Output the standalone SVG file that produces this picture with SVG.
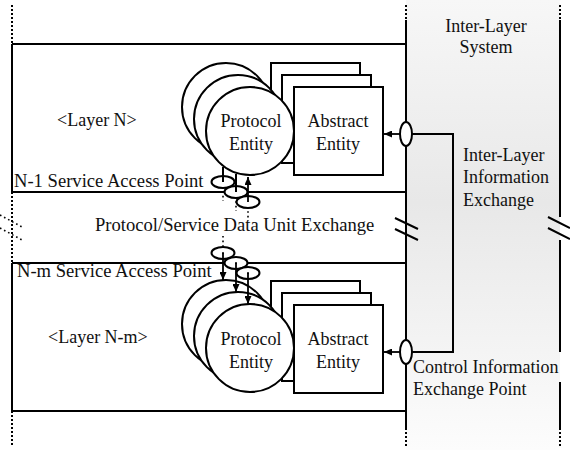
<svg xmlns="http://www.w3.org/2000/svg" width="570" height="450" viewBox="0 0 570 450">
<defs>
<linearGradient id="band" x1="0" y1="0" x2="0" y2="1">
<stop offset="0" stop-color="#f7f7f7"/>
<stop offset="0.45" stop-color="#e8e8e8"/>
<stop offset="1" stop-color="#fcfcfc"/>
</linearGradient>
<marker id="ah" markerUnits="userSpaceOnUse" markerWidth="9" markerHeight="7" refX="8" refY="3.5" orient="auto">
<path d="M0,0 L8,3.5 L0,7 z" fill="#000"/>
</marker>
</defs>
<style>
text{font-family:"Liberation Serif","Times New Roman",serif;font-size:18px;fill:#111}
.w{font-size:18.6px}
.c{text-anchor:middle}
.box{fill:none;stroke:#000;stroke-width:2}
.ent{fill:#fff;stroke:#000;stroke-width:2}
.ln{fill:none;stroke:#000;stroke-width:2}
.dot{fill:none;stroke:#000;stroke-width:2;stroke-dasharray:2 2}
.sdot{fill:none;stroke:#000;stroke-width:1.6;stroke-dasharray:1.6 3}
.sap{fill:#fff;stroke:#000;stroke-width:2}
.arr{fill:none;stroke:#000;stroke-width:1.8;marker-end:url(#ah)}
</style>
<rect width="570" height="450" fill="#fff"/>

<g id="inter-layer-system">
<rect x="406" y="0" width="154" height="450" fill="url(#band)"/>
<path class="ln" d="M406,20 V430 M560,20 V217 M560,240 V352 M560,382 V430"/>
<path class="dot" d="M406,5 V20 M406,432 V447 M560,5 V20 M560,432 V447"/>
<text class="c" x="486" y="32">Inter-Layer</text>
<text class="c" x="486" y="53">System</text>
</g>

<g id="layer-n">
<path class="box" d="M12,44 H406 M12,44 V192 H406"/>
<text x="57" y="126">&lt;Layer N&gt;</text>
<text class="w" x="14" y="187">N-1 Service Access Point</text>
</g>

<g id="layer-nm">
<path class="box" d="M12,263 H406 M12,263 V411 H406"/>
<text x="48" y="343">&lt;Layer N-m&gt;</text>
<text class="w" x="17" y="277">N-m Service Access Point</text>
</g>

<g id="left-boundary">
<path class="dot" d="M12,5 V44 M12,192 V263 M12,411 V447"/>
<path class="sdot" d="M0,215 L22,227 M0,228 L22,240"/>
</g>

<g id="abstract-entity-n">
<rect class="ent" x="271" y="63" width="89" height="88"/>
<rect class="ent" x="282" y="75" width="89" height="88"/>
<rect class="ent" x="294" y="87" width="89" height="88"/>
<text class="c" x="338" y="127">Abstract</text>
<text class="c" x="338" y="150">Entity</text>
</g>

<g id="abstract-entity-nm">
<rect class="ent" x="271" y="281" width="89" height="88"/>
<rect class="ent" x="282" y="293" width="89" height="88"/>
<rect class="ent" x="294" y="305" width="89" height="88"/>
<text class="c" x="338" y="345">Abstract</text>
<text class="c" x="338" y="368">Entity</text>
</g>

<g id="protocol-entity-n">
<circle class="ent" cx="226" cy="107" r="44"/>
<circle class="ent" cx="238" cy="119" r="44"/>
<circle class="ent" cx="250" cy="131" r="44"/>
<text class="c" x="251" y="127">Protocol</text>
<text class="c" x="251" y="150">Entity</text>
</g>

<g id="protocol-entity-nm">
<circle class="ent" cx="226" cy="324" r="44"/>
<circle class="ent" cx="238" cy="336" r="44"/>
<circle class="ent" cx="250" cy="348" r="44"/>
<text class="c" x="251" y="345">Protocol</text>
<text class="c" x="251" y="368">Entity</text>
</g>

<g id="sap-n">
<path class="sdot" d="M223,182 V201 M236,192 V211 M248,202 V221"/>
<ellipse class="sap" cx="223" cy="182" rx="11.5" ry="6"/>
<ellipse class="sap" cx="236" cy="192" rx="11.5" ry="6"/>
<ellipse class="sap" cx="248" cy="202" rx="11.5" ry="6"/>
</g>

<g id="sap-nm">
<path class="sdot" d="M223,236 V253"/>
<ellipse class="sap" cx="223" cy="253" rx="11.5" ry="6"/>
<ellipse class="sap" cx="236" cy="263" rx="11.5" ry="6"/>
<ellipse class="sap" cx="248" cy="273" rx="11.5" ry="6"/>
<g fill="#000"><circle cx="223" cy="253" r="1"/><circle cx="236" cy="263" r="1"/><circle cx="248" cy="273" r="1"/></g>
</g>

<g id="control-points">
<ellipse class="sap" cx="406" cy="134" rx="6" ry="12"/>
<ellipse class="sap" cx="406" cy="352" rx="6" ry="12"/>
</g>

<g id="connectors">
<path class="ln" d="M223,182 V167 M236,192 V174"/>
<path class="arr" d="M248,202 V177"/>
<path class="arr" d="M223,253 V280"/>
<path class="arr" d="M236,263 V292"/>
<path class="arr" d="M248,273 V304"/>
<path class="ln" d="M412,134 H453 V352 H412"/>
<path class="arr" d="M400,134 H384"/>
<path class="arr" d="M400,352 H384"/>
<path class="ln" d="M395,218 L418,229 M395,229 L418,240 M548,217 L570,228 M548,228 L570,239"/>
</g>

<g id="labels">
<text class="w" x="95" y="231">Protocol/Service Data Unit Exchange</text>
<text x="463" y="161">Inter-Layer</text>
<text x="463" y="183">Information</text>
<text x="463" y="206">Exchange</text>
<text x="413" y="373">Control Information</text>
<text x="413" y="395">Exchange Point</text>
</g>
</svg>
